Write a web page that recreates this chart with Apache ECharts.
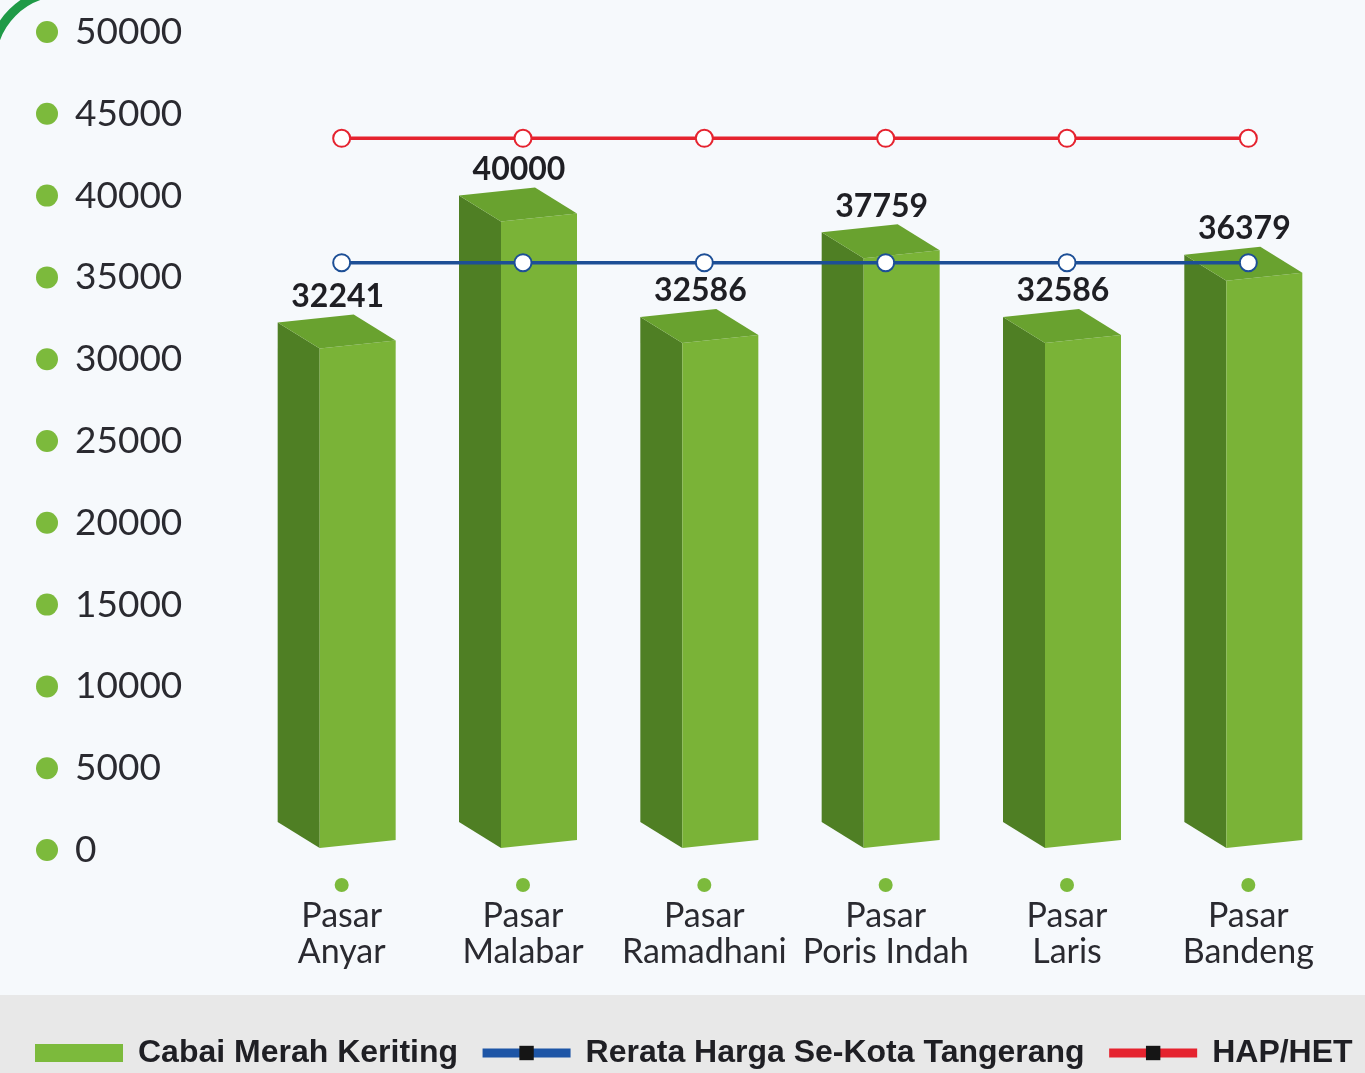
<!DOCTYPE html>
<html>
<head>
<meta charset="utf-8">
<script src="https://cdn.jsdelivr.net/npm/echarts@6/dist/echarts.min.js"></script>
<style>
  html, body { margin: 0; padding: 0; background: #f6f9fc; }
  #main { width: 1365px; height: 1073px; }
</style>
</head>
<body>
<div id="main"></div>
<script>
// data
var pasar = ['Pasar\nAnyar', 'Pasar\nMalabar', 'Pasar\nRamadhani', 'Pasar\nPoris Indah', 'Pasar\nLaris', 'Pasar\nBandeng'];
var hargaCabai = [32241, 40000, 32586, 37759, 32586, 36379];
var rerataKota = [35900, 35900, 35900, 35900, 35900, 35900];
var hapHet = [43500, 43500, 43500, 43500, 43500, 43500];

var sideColor = '#4f7f24';
var frontColor = '#7ab337';
var topColor = '#69a22f';

var chart = echarts.init(document.getElementById('main'));

// kotak 3D untuk tiap batang
function renderBox(params, api) {
    var top = api.coord([api.value(0), api.value(1)]);
    var base = api.coord([api.value(0), 0]);
    var x = top[0], t = top[1], b = base[1] - 2;
    var sL = x - 64, f = x - 22, r = x + 54;
    var dy = 26, sk = 8;
    return {
        type: 'group',
        children: [
            {type: 'polygon', shape: {points: [[sL, t], [f, t + dy], [f, b], [sL, b - dy]]}, style: {fill: sideColor}},
            {type: 'polygon', shape: {points: [[f, t + dy], [r, t + dy - sk], [r, b - sk], [f, b]]}, style: {fill: frontColor}},
            {type: 'polygon', shape: {points: [[sL, t], [sL + 76, t - sk], [r, t + dy - sk], [f, t + dy]]}, style: {fill: topColor}},
            {type: 'text', style: {text: String(api.value(1)), x: x - 4, y: t - 10, align: 'center', verticalAlign: 'bottom',
                font: 'bold 32px Lato', fill: '#1f1f24'}}
        ]
    };
}

function lineData(arr) {
    // titik garis: lingkaran kosong, simbol seri (rect) hanya dipakai legenda
    return arr.map(function (v) { return {value: v, symbol: 'emptyCircle'}; });
}

chart.setOption({
    backgroundColor: '#f6f9fc',
    animation: false,
    graphic: [
        {type: 'rect', left: 0, top: 995, shape: {width: 1365, height: 78}, style: {fill: '#e8e8e8'}, z: -10},
        {type: 'arc', shape: {cx: 62, cy: 62, r: 70, startAngle: Math.PI * 1.0, endAngle: Math.PI * 1.5},
            style: {stroke: '#1f9a47', lineWidth: 9, fill: null}}
    ],
    grid: {left: 251, right: 26, top: 32, bottom: 223},
    legend: {
        left: 30,
        top: 1032,
        itemWidth: 88,
        itemHeight: 18,
        itemGap: 20,
        textStyle: {fontFamily: 'Liberation Sans', fontWeight: 'bold', fontSize: 32, color: '#1f1f24', padding: [0, 0, 0, 10]},
        data: [
            {name: 'Cabai Merah Keriting', icon: 'rect', itemStyle: {color: '#7cba3c'}},
            {name: 'Rerata Harga Se-Kota Tangerang', itemStyle: {color: '#151515', borderColor: '#151515', borderWidth: 0}, lineStyle: {width: 9, color: '#1d55a6'}},
            {name: 'HAP/HET', itemStyle: {color: '#151515', borderColor: '#151515', borderWidth: 0}, lineStyle: {width: 9, color: '#e5232f'}}
        ]
    },
    xAxis: {
        type: 'category',
        data: pasar,
        axisLine: {show: false},
        axisTick: {show: false},
        axisLabel: {
            margin: 22,
            interval: 0,
            formatter: function (v) {
                var p = v.split('\n');
                return '{dot|}\n{t|' + p[0] + '}\n{t|' + p[1] + '}';
            },
            rich: {
                dot: {backgroundColor: '#7cba3c', width: 14, height: 14, borderRadius: 7, lineHeight: 26},
                t: {fontFamily: 'Lato', fontSize: 34, color: '#2a2a30', lineHeight: 36}
            }
        }
    },
    yAxis: {
        type: 'value',
        min: 0,
        max: 50000,
        interval: 5000,
        splitLine: {show: false},
        axisLine: {show: false},
        axisTick: {show: false},
        axisLabel: {
            align: 'left',
            margin: 215,
            formatter: function (v) { return '{dot|}{v|' + v + '}'; },
            rich: {
                dot: {backgroundColor: '#7cba3c', width: 22, height: 22, borderRadius: 11},
                v: {fontFamily: 'Lato', fontSize: 37, color: '#2a2a30', padding: [0, 0, 0, 17]}
            }
        }
    },
    series: [
        {
            name: 'Cabai Merah Keriting',
            type: 'custom',
            renderItem: renderBox,
            itemStyle: {color: '#7cba3c'},
            encode: {x: 0, y: 1},
            data: hargaCabai.map(function (v, i) { return [i, v]; }),
            z: 2
        },
        {
            name: 'Rerata Harga Se-Kota Tangerang',
            type: 'line',
            data: lineData(rerataKota),
            symbol: 'rect',
            symbolSize: 17,
            color: '#1d4f96',
            lineStyle: {width: 3.5, color: '#1d4f96'},
            itemStyle: {color: '#1d4f96', borderWidth: 3, borderColor: '#1d4f96'},
            z: 5
        },
        {
            name: 'HAP/HET',
            type: 'line',
            data: lineData(hapHet),
            symbol: 'rect',
            symbolSize: 17,
            color: '#e5232f',
            lineStyle: {width: 3.5, color: '#e5232f'},
            itemStyle: {color: '#e5232f', borderWidth: 3, borderColor: '#e5232f'},
            z: 5
        }
    ]
});
</script>
</body>
</html>
